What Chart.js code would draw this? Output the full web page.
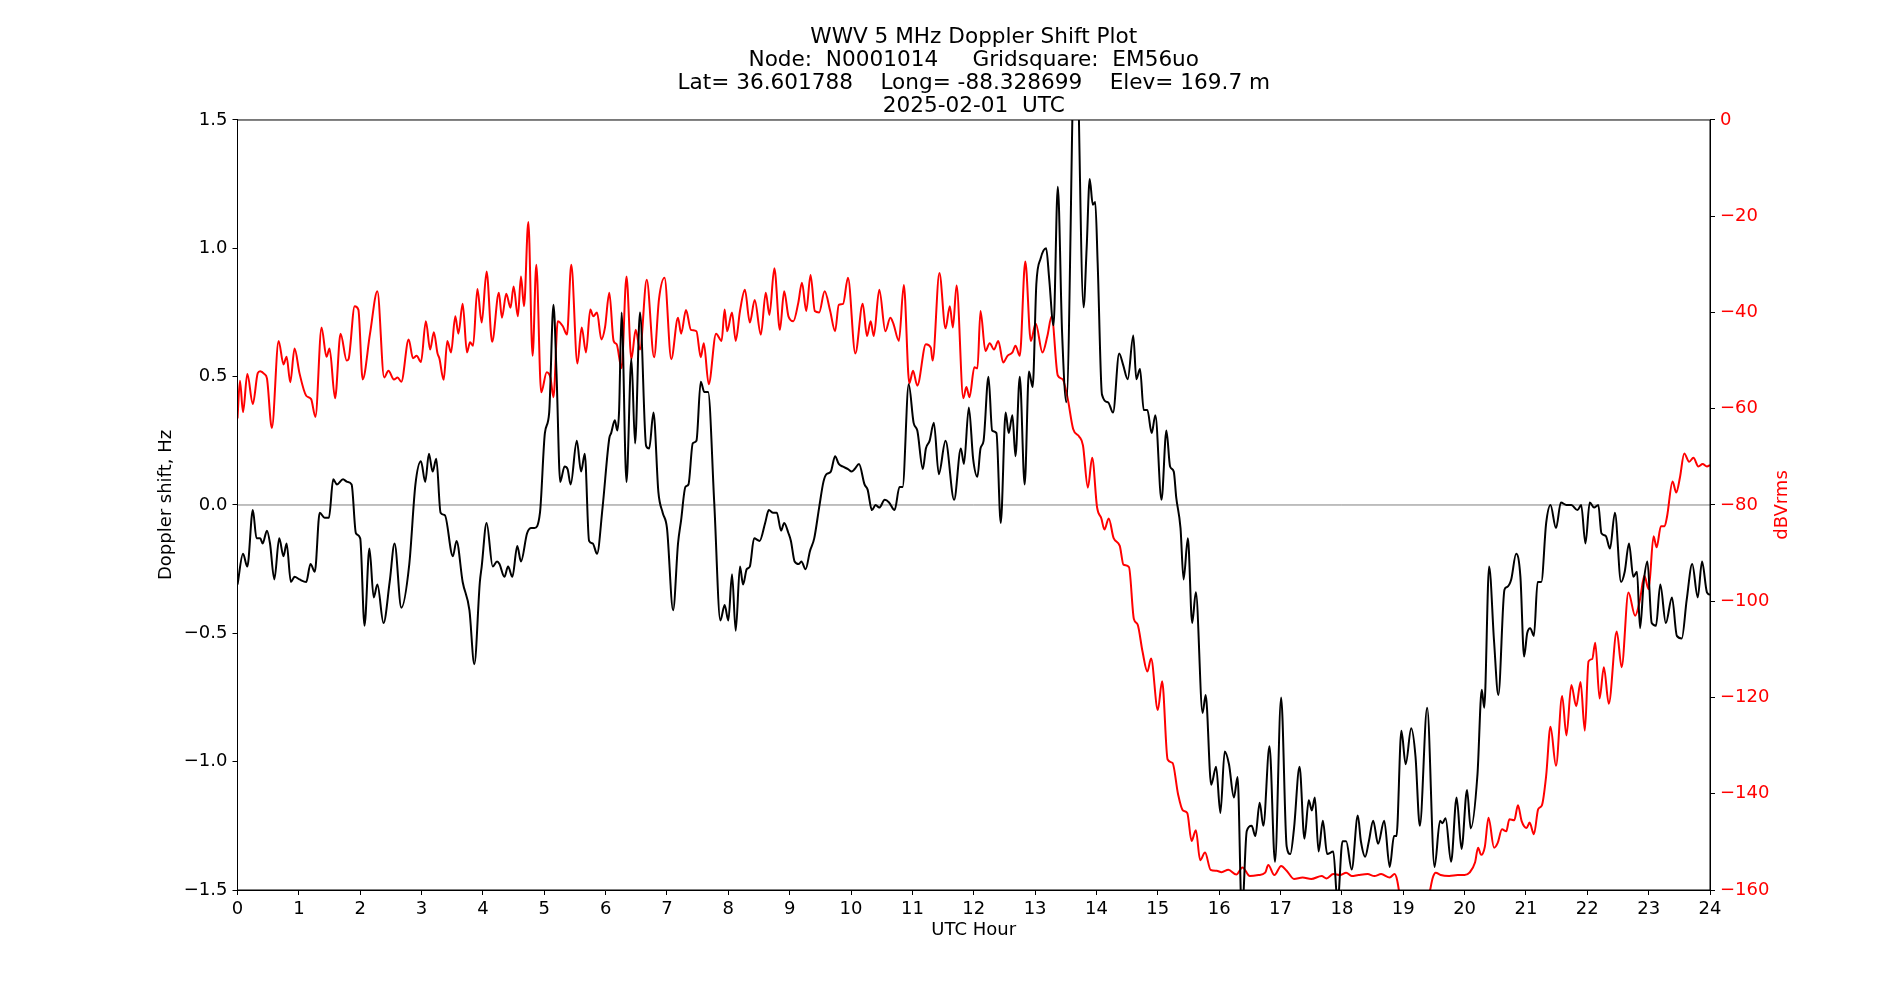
<!DOCTYPE html>
<html>
<head>
<meta charset="utf-8">
<title>WWV 5 MHz Doppler Shift Plot</title>
<script src="https://cdn.jsdelivr.net/npm/chart.js"></script>
<style>
    html, body { margin: 0; padding: 0; background: #ffffff; }
    #wrap { width: 1900px; height: 1000px; position: relative; }
</style>
</head>
<body>
<div id="wrap"><canvas id="doppler-chart" width="1900" height="1000"></canvas></div>
<script>
// Doppler shift (Hz) vs UTC hour
const dopplerHours = [
    0.00, 0.09, 0.16, 0.25, 0.31, 0.37, 0.41, 0.48, 0.53, 0.60, 0.68, 0.75, 0.80, 0.87, 0.93,
    1.01, 1.12, 1.19, 1.26, 1.34, 1.42, 1.49, 1.56, 1.62, 1.72, 1.79, 1.86, 1.93, 2.00,
    2.07, 2.15, 2.22, 2.28, 2.38, 2.48, 2.56, 2.67, 2.80, 2.90, 2.99, 3.06,
    3.12, 3.18, 3.24, 3.31, 3.38, 3.51, 3.57, 3.67, 3.78, 3.86, 3.95, 3.98,
    4.06, 4.16, 4.23, 4.27, 4.35, 4.41, 4.48, 4.56, 4.62, 4.72, 4.79, 4.84, 4.93,
    5.01, 5.08, 5.15, 5.20, 5.26, 5.33, 5.38, 5.43, 5.53, 5.60, 5.66, 5.73, 5.79, 5.86, 5.95, 6.06,
    6.09, 6.15, 6.19, 6.22, 6.26, 6.34, 6.42, 6.48, 6.56, 6.66, 6.71, 6.78, 6.86, 6.93,
    7.00, 7.10, 7.18, 7.23, 7.30, 7.35, 7.42, 7.48, 7.55, 7.61, 7.67, 7.77, 7.87, 7.94,
    8.00, 8.06, 8.12, 8.19, 8.24, 8.30, 8.35, 8.42, 8.51, 8.60, 8.66, 8.73, 8.79, 8.86, 8.91, 8.98,
    9.02, 9.08, 9.15, 9.19, 9.26, 9.33, 9.40, 9.48, 9.55, 9.60, 9.67, 9.74, 9.80, 9.86, 9.95,
    10.01, 10.06, 10.13, 10.22, 10.27, 10.34, 10.40, 10.46, 10.55, 10.62, 10.71, 10.79, 10.84, 10.94,
    11.02, 11.08, 11.17, 11.22, 11.28, 11.35, 11.43, 11.54, 11.68, 11.79, 11.84, 11.92, 11.99,
    12.06, 12.11, 12.16, 12.24, 12.30, 12.37, 12.44, 12.52, 12.57, 12.63, 12.68, 12.75, 12.83, 12.90, 12.96,
    13.02, 13.09, 13.18, 13.23, 13.30, 13.37, 13.44, 13.51, 13.66, 13.79, 13.84, 13.89, 13.94, 13.98,
    14.02, 14.09, 14.19, 14.27, 14.37, 14.43, 14.51, 14.60, 14.65, 14.71, 14.77, 14.83, 14.90, 14.96,
    15.06, 15.14, 15.20, 15.26, 15.30, 15.37, 15.42, 15.49, 15.56, 15.62, 15.73, 15.78, 15.87, 15.95,
    16.02, 16.09, 16.16, 16.24, 16.30, 16.37, 16.45, 16.53, 16.59, 16.66, 16.72, 16.82, 16.91,
    17.01, 17.10, 17.16, 17.22, 17.31, 17.39, 17.46, 17.51, 17.56, 17.62, 17.69, 17.76, 17.86, 17.93,
    18.01, 18.07, 18.16, 18.26, 18.31, 18.38, 18.44, 18.51, 18.59, 18.69, 18.78, 18.85, 18.89, 18.97,
    19.04, 19.13, 19.20, 19.27, 19.39, 19.51, 19.60, 19.64, 19.69, 19.78, 19.87, 19.95,
    20.04, 20.10, 20.21, 20.28, 20.32, 20.40, 20.48, 20.55, 20.65, 20.69, 20.76, 20.84, 20.91, 20.97,
    21.02, 21.07, 21.13, 21.19, 21.25, 21.33, 21.40, 21.49, 21.57, 21.66, 21.74, 21.84, 21.90, 21.97,
    22.04, 22.11, 22.18, 22.23, 22.30, 22.37, 22.45, 22.55, 22.61, 22.68, 22.75, 22.81, 22.86, 22.92, 22.98,
    23.05, 23.12, 23.19, 23.28, 23.38, 23.46, 23.54, 23.62, 23.71, 23.80, 23.87, 23.95, 24.00
];
const dopplerShift = [
    -0.31, -0.19, -0.24, -0.02, -0.13, -0.13, -0.15, -0.10, -0.15, -0.29, -0.13, -0.20, -0.15, -0.30, -0.28,
    -0.29, -0.30, -0.23, -0.26, -0.03, -0.05, -0.05, 0.10, 0.08, 0.10, 0.09, 0.08, -0.11, -0.13,
    -0.47, -0.17, -0.36, -0.31, -0.46, -0.30, -0.15, -0.40, -0.23, 0.08, 0.17, 0.09,
    0.20, 0.13, 0.18, -0.03, -0.04, -0.20, -0.14, -0.30, -0.41, -0.62, -0.30, -0.24,
    -0.07, -0.24, -0.22, -0.23, -0.28, -0.24, -0.28, -0.16, -0.22, -0.11, -0.09, -0.09, -0.03,
    0.28, 0.36, 0.78, 0.51, 0.09, 0.15, 0.14, 0.08, 0.25, 0.13, 0.20, -0.14, -0.15, -0.19, -0.01, 0.26,
    0.28, 0.33, 0.29, 0.37, 0.75, 0.09, 0.57, 0.24, 0.75, 0.23, 0.22, 0.36, 0.05, -0.03,
    -0.09, -0.41, -0.15, -0.06, 0.07, 0.08, 0.24, 0.25, 0.48, 0.44, 0.44, 0.01, -0.45, -0.39,
    -0.45, -0.27, -0.49, -0.24, -0.31, -0.25, -0.24, -0.13, -0.14, -0.07, -0.02, -0.03, -0.03, -0.10, -0.07, -0.11,
    -0.14, -0.22, -0.23, -0.22, -0.25, -0.18, -0.13, -0.01, 0.09, 0.12, 0.13, 0.19, 0.16, 0.15, 0.14,
    0.13, 0.14, 0.16, 0.08, 0.06, -0.02, 0.00, -0.01, 0.02, 0.01, -0.02, 0.07, 0.07, 0.47,
    0.32, 0.29, 0.14, 0.22, 0.25, 0.32, 0.12, 0.25, 0.02, 0.22, 0.16, 0.38, 0.18,
    0.11, 0.22, 0.25, 0.50, 0.29, 0.28, -0.07, 0.36, 0.28, 0.35, 0.19, 0.50, 0.08, 0.52, 0.46,
    0.86, 0.96, 1.00, 0.88, 0.70, 1.24, 0.67, 0.40, 1.95, 0.77, 1.00, 1.27, 1.17, 1.18,
    0.94, 0.43, 0.40, 0.36, 0.59, 0.55, 0.49, 0.66, 0.49, 0.53, 0.37, 0.37, 0.28, 0.35,
    0.02, 0.29, 0.15, 0.13, 0.03, -0.09, -0.29, -0.13, -0.46, -0.34, -0.81, -0.74, -1.09, -1.02,
    -1.20, -0.96, -1.01, -1.14, -1.06, -1.60, -1.27, -1.25, -1.29, -1.16, -1.25, -0.94, -1.39,
    -0.75, -1.33, -1.36, -1.26, -1.02, -1.30, -1.15, -1.19, -1.14, -1.35, -1.23, -1.36, -1.35, -1.55,
    -1.31, -1.31, -1.42, -1.21, -1.31, -1.37, -1.31, -1.23, -1.32, -1.23, -1.41, -1.29, -1.29, -0.88,
    -1.01, -0.87, -0.98, -1.25, -0.79, -1.41, -1.23, -1.24, -1.22, -1.39, -1.14, -1.34,
    -1.11, -1.26, -1.05, -0.72, -0.79, -0.24, -0.53, -0.74, -0.33, -0.32, -0.29, -0.19, -0.28, -0.59,
    -0.50, -0.48, -0.51, -0.30, -0.30, -0.07, 0.00, -0.09, 0.01, 0.00, 0.00, -0.02, 0.00, -0.15,
    0.01, -0.01, 0.00, -0.11, -0.12, -0.17, -0.03, -0.30, -0.26, -0.15, -0.28, -0.26, -0.48, -0.30, -0.22,
    -0.46, -0.47, -0.31, -0.46, -0.36, -0.51, -0.52, -0.37, -0.23, -0.36, -0.22, -0.34, -0.35
];

// Received signal level (dBVrms) vs UTC hour
const powerHours = [
    0.00, 0.04, 0.09, 0.16, 0.25, 0.33, 0.37, 0.44, 0.48, 0.56, 0.67, 0.75, 0.80, 0.86, 0.93,
    1.01, 1.12, 1.20, 1.27, 1.37, 1.45, 1.50, 1.59, 1.68, 1.78, 1.81, 1.91, 1.97,
    2.04, 2.16, 2.28, 2.39, 2.46, 2.55, 2.61, 2.67, 2.79, 2.86, 2.92, 2.99,
    3.07, 3.14, 3.20, 3.26, 3.29, 3.36, 3.42, 3.48, 3.55, 3.60, 3.67, 3.74, 3.79, 3.84, 3.91, 3.98,
    4.06, 4.15, 4.26, 4.31, 4.38, 4.45, 4.50, 4.57, 4.62, 4.67, 4.74, 4.81, 4.87, 4.95,
    5.04, 5.10, 5.15, 5.22, 5.30, 5.37, 5.44, 5.54, 5.61, 5.68, 5.75, 5.80, 5.86, 5.93, 5.99,
    6.06, 6.13, 6.18, 6.26, 6.34, 6.42, 6.49, 6.56, 6.67, 6.79, 6.87, 6.96,
    7.07, 7.18, 7.23, 7.31, 7.39, 7.48, 7.55, 7.60, 7.68, 7.80, 7.89, 7.94, 7.98,
    8.06, 8.12, 8.19, 8.27, 8.35, 8.43, 8.53, 8.61, 8.67, 8.75, 8.84, 8.91, 8.98,
    9.06, 9.14, 9.20, 9.27, 9.34, 9.41, 9.48, 9.57, 9.66, 9.74, 9.80, 9.87, 9.95,
    10.07, 10.19, 10.26, 10.32, 10.37, 10.46, 10.56, 10.64, 10.69, 10.78, 10.86, 10.95,
    11.01, 11.08, 11.22, 11.30, 11.33, 11.44, 11.54, 11.61, 11.66, 11.72, 11.83, 11.88, 11.93,
    12.01, 12.06, 12.11, 12.19, 12.26, 12.33, 12.40, 12.48, 12.55, 12.63, 12.68, 12.75, 12.84, 12.93,
    13.01, 13.12, 13.20, 13.27, 13.37, 13.45, 13.53, 13.62, 13.72, 13.78, 13.86, 13.93,
    14.01, 14.08, 14.13, 14.20, 14.28, 14.38, 14.44, 14.53, 14.61, 14.67, 14.75, 14.83, 14.89,
    15.00, 15.07, 15.16, 15.24, 15.33, 15.41, 15.48, 15.55, 15.62, 15.69, 15.77, 15.86, 15.96,
    16.04, 16.15, 16.28, 16.38, 16.50, 16.64, 16.75, 16.80, 16.90,
    17.01, 17.10, 17.22, 17.36, 17.50, 17.67, 17.75, 17.86, 17.97,
    18.07, 18.16, 18.27, 18.42, 18.53, 18.64, 18.78, 18.86, 18.90, 18.94,
    19.20, 19.43, 19.48, 19.53, 19.61, 19.75, 19.89,
    20.00, 20.08, 20.17, 20.22, 20.27, 20.33, 20.39, 20.48, 20.54, 20.61, 20.68, 20.73, 20.81, 20.87, 20.93,
    21.01, 21.06, 21.13, 21.20, 21.26, 21.33, 21.40, 21.49, 21.59, 21.66, 21.74, 21.82, 21.89, 21.96,
    22.02, 22.08, 22.13, 22.20, 22.27, 22.35, 22.48, 22.56, 22.67, 22.78, 22.86, 22.93,
    23.00, 23.08, 23.13, 23.20, 23.26, 23.30, 23.39, 23.45, 23.51, 23.58, 23.66, 23.73, 23.81, 23.88, 23.95, 24.00
];
const powerDb = [
    -62.0, -54.2, -60.7, -52.8, -59.0, -52.6, -52.2, -52.8, -53.7, -64.0, -45.9, -50.8, -49.2, -54.5, -47.5,
    -52.6, -57.3, -58.0, -61.7, -43.1, -49.2, -47.5, -57.8, -44.4, -50.0, -49.7, -38.7, -39.4,
    -53.9, -44.4, -35.6, -53.5, -52.1, -53.9, -53.5, -54.4, -45.6, -49.5, -49.0, -50.3,
    -41.8, -47.7, -44.1, -48.5, -49.5, -54.0, -45.9, -48.3, -40.8, -44.4, -38.2, -48.3, -46.2, -46.9, -35.1, -42.1,
    -31.5, -46.1, -35.9, -41.1, -36.1, -39.0, -34.6, -40.8, -32.5, -38.7, -21.2, -49.0, -30.1, -56.6,
    -52.4, -53.5, -57.6, -41.8, -42.8, -44.6, -30.1, -50.6, -43.1, -48.3, -39.4, -40.8, -40.0, -45.6, -43.1,
    -35.9, -45.9, -46.6, -51.6, -32.5, -49.7, -43.6, -47.7, -33.2, -49.3, -37.2, -32.8,
    -49.7, -41.1, -44.4, -39.5, -43.6, -43.9, -49.3, -46.4, -54.9, -44.4, -45.9, -39.4, -43.9,
    -40.0, -45.9, -39.7, -35.3, -42.1, -37.4, -44.6, -35.9, -40.5, -30.8, -43.6, -35.6, -40.8,
    -41.8, -38.0, -33.8, -39.7, -32.2, -39.7, -40.0, -35.6, -39.7, -43.9, -38.4, -38.2, -32.8,
    -48.5, -38.2, -44.9, -41.8, -44.9, -35.3, -43.9, -41.1, -42.3, -45.9, -34.3, -54.7,
    -52.1, -55.2, -46.6, -47.3, -50.0, -31.8, -43.3, -38.7, -43.1, -34.4, -57.8, -55.5, -57.6,
    -51.4, -51.6, -39.7, -48.0, -46.4, -47.7, -45.9, -50.4, -49.0, -48.3, -46.9, -49.0, -29.4, -45.9,
    -42.3, -48.3, -44.9, -40.8, -53.1, -53.9, -57.8, -64.2, -65.8, -67.6, -76.4, -70.2,
    -80.5, -82.8, -85.1, -82.8, -86.9, -88.5, -92.4, -92.9, -103.7, -104.8, -110.4, -114.6, -111.9,
    -122.6, -116.6, -132.9, -133.6, -140.1, -143.5, -144.0, -149.8, -147.6, -153.8, -152.2, -155.8, -156.0,
    -156.3, -155.8, -156.8, -155.3, -157.1, -156.9, -156.4, -154.8, -156.9,
    -155.0, -156.0, -157.7, -157.4, -157.7, -157.1, -157.6, -156.7, -156.9,
    -156.4, -157.1, -156.9, -156.7, -157.1, -156.7, -157.4, -156.7, -157.9, -160.8,
    -172.0, -160.5, -157.5, -156.4, -156.9, -157.1, -156.9,
    -156.9, -156.4, -154.3, -151.2, -152.7, -151.0, -145.0, -151.2, -150.2, -147.4, -147.8, -145.3, -145.5, -142.4, -145.7,
    -147.1, -146.0, -148.4, -143.2, -142.4, -136.2, -126.1, -134.2, -119.7, -127.9, -117.4, -121.8, -116.8, -126.9,
    -112.5, -112.0, -108.6, -120.2, -113.7, -121.3, -106.3, -113.7, -98.2, -103.0, -99.6, -94.7,
    -97.5, -86.5, -88.8, -84.4, -84.4, -82.4, -75.1, -77.4, -74.3, -69.3, -71.0, -70.2, -72.0, -71.5, -72.0, -71.7
];

const hourRange = [0, 24];
const shiftRange = [-1.5, 1.5];
const dbRange = [-160, 0];

const titleLines = [
    'WWV 5 MHz Doppler Shift Plot',
    'Node:  N0001014     Gridsquare:  EM56uo',
    'Lat= 36.601788    Long= -88.328699    Elev= 169.7 m',
    '2025-02-01  UTC'
];

const FONT = "'DejaVu Sans', sans-serif";
const minus = s => String(s).replace('-', '\u2212');

function toPoints(xs, ys) {
    return xs.map((x, i) => ({ x, y: ys[i] }));
}

// frame around the plot area + red right-hand axis label (reads bottom-to-top)
const framePlugin = {
    id: 'frame',
    afterDraw(chart) {
        const { ctx, chartArea: a } = chart;
        ctx.save();
        ctx.strokeStyle = '#000000';
        ctx.lineWidth = 1;
        ctx.strokeRect(a.left, a.top, a.right - a.left, a.bottom - a.top);
        ctx.translate(1782, (a.top + a.bottom) / 2);
        ctx.rotate(-Math.PI / 2);
        ctx.fillStyle = '#ff0000';
        ctx.font = `18px ${FONT}`;
        ctx.textAlign = 'center';
        ctx.textBaseline = 'middle';
        ctx.fillText('dBVrms', 0, 0);
        ctx.restore();
    }
};

const tickFont = { family: FONT, size: 18 };
const labelFont = { family: FONT, size: 18 };

new Chart(document.getElementById('doppler-chart'), {
    type: 'line',
    data: {
        datasets: [
            {
                label: 'Doppler shift',
                data: toPoints(dopplerHours, dopplerShift),
                yAxisID: 'y',
                borderColor: '#000000',
                borderWidth: 2,
                pointRadius: 0,
                cubicInterpolationMode: 'monotone'
            },
            {
                label: 'dBVrms',
                data: toPoints(powerHours, powerDb),
                yAxisID: 'y1',
                borderColor: '#ff0000',
                borderWidth: 2,
                pointRadius: 0,
                cubicInterpolationMode: 'monotone'
            },
            {
                label: 'zero',
                data: toPoints(hourRange, [0, 0]),
                yAxisID: 'y',
                borderColor: '#808080',
                borderWidth: 1,
                pointRadius: 0
            }
        ]
    },
    options: {
        responsive: false,
        devicePixelRatio: 1,
        animation: false,
        events: [],
        layout: { padding: 0 },
        plugins: {
            legend: { display: false },
            tooltip: { enabled: false },
            title: {
                display: true,
                fullSize: false,
                text: titleLines,
                color: '#000000',
                font: { family: FONT, size: 21.6, weight: 'normal', lineHeight: 1.075 },
                padding: { top: 25.5, bottom: 1.6 }
            }
        },
        scales: {
            x: {
                type: 'linear',
                min: hourRange[0],
                max: hourRange[1],
                afterFit: s => { s.height = 110; },
                grid: { display: true, drawOnChartArea: false, tickLength: 5, color: '#000000' },
                border: { display: true, color: '#000000' },
                ticks: { stepSize: 1, color: '#000000', font: tickFont, padding: 4, maxRotation: 0, autoSkip: false },
                title: { display: true, text: 'UTC Hour', color: '#000000', font: labelFont, padding: { top: 0, bottom: 58.7 } }
            },
            y: {
                position: 'left',
                min: shiftRange[0],
                max: shiftRange[1],
                afterFit: s => { s.width = 237.5; },
                grid: { display: true, drawOnChartArea: false, tickLength: 5, color: '#000000' },
                border: { display: true, color: '#000000' },
                ticks: { stepSize: 0.5, color: '#000000', font: tickFont, padding: 5, callback: v => minus(v.toFixed(1)) },
                title: { display: true, text: 'Doppler shift, Hz', color: '#000000', font: labelFont, padding: { top: 156, bottom: 0 } }
            },
            y1: {
                position: 'right',
                min: dbRange[0],
                max: dbRange[1],
                afterFit: s => { s.width = 190; },
                grid: { display: true, drawOnChartArea: false, tickLength: 5, color: '#000000' },
                border: { display: true, color: '#000000' },
                ticks: { stepSize: 20, color: '#ff0000', font: tickFont, padding: 5, callback: v => minus(v) }
            }
        }
    },
    plugins: [framePlugin]
});
</script>
</body>
</html>
